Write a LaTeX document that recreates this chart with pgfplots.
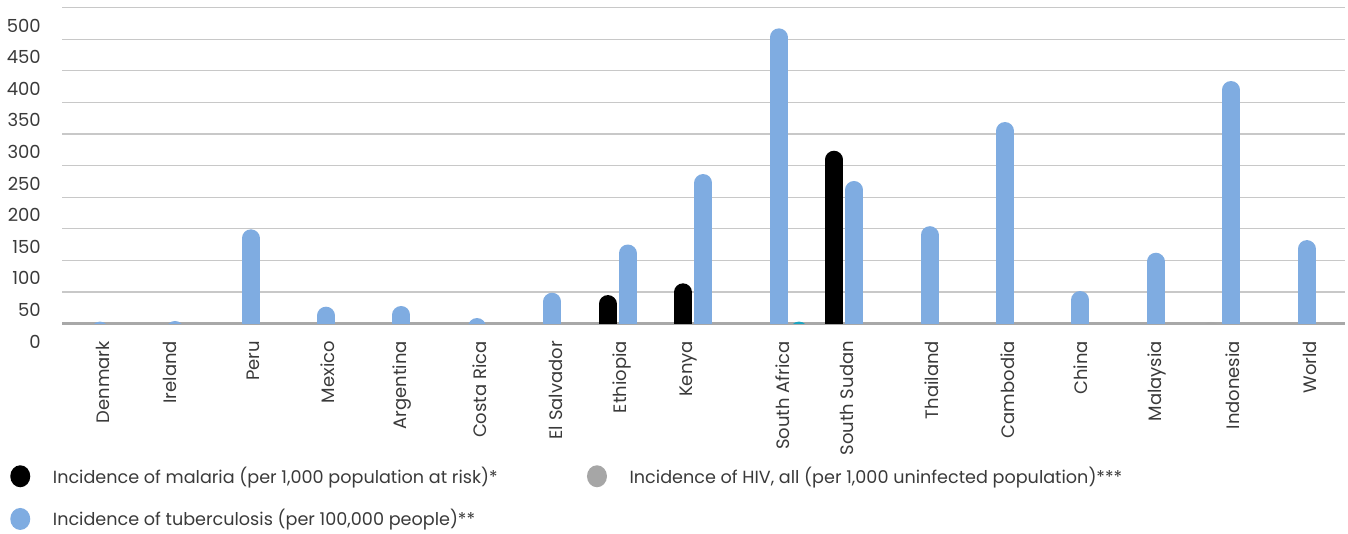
\documentclass[border=0pt]{standalone}
\usepackage{pgfplots}
\pgfplotsset{compat=1.18}
\usepackage{fontspec}
\setmainfont{Poppins}

\definecolor{tbblue}{HTML}{7FACE1}
\definecolor{hivgray}{HTML}{A6A6A6}
\definecolor{hivteal}{HTML}{1AA5C2}
\definecolor{gridgray}{HTML}{C8C8C8}
\definecolor{axisgray}{HTML}{A8A8A8}
\definecolor{txt}{HTML}{3A3A3A}

% rounded-top bar: a comb line with a round cap, lowered by the cap radius
\pgfplotsset{
  rbar/.style={ycomb, mark=none, line width=13.3pt, line cap=round, yshift=-6.65pt},
  dot/.style={legend image code/.code={\path[fill=#1, draw=none, line width=0pt] (0pt,6.5pt) ellipse (7.5pt and 8.25pt);}},
}

\begin{document}
\begin{tikzpicture}
\path[use as bounding box] (0pt,0pt) rectangle (1011pt,399.75pt);
\begin{axis}[
  at={(46.5pt,157.125pt)}, anchor=south west,
  scale only axis, width=962.25pt, height=237pt,
  xmin=62, xmax=1345, ymin=0, ymax=500,
  axis lines*=left,
  y axis line style={draw=none},
  x axis line style={draw=axisgray, line width=2.2pt, -},
  tick style={draw=none},
  ytick={0,50,...,500},
  ymajorgrids, major grid style={gridgray, line width=0.9pt},
  /pgf/number format/assume math mode=true,
  yticklabel style={font=\fontsize{13.5}{16}\selectfont, text=txt, anchor=east, inner sep=0pt, xshift=-15.75pt, yshift=-13.5pt},
  xtick={103,170,253,328,402,480,556,622,689,783,847,932,1008,1081,1157,1233,1310},
  xticklabels={Denmark,Ireland,Peru,Mexico,Argentina,Costa Rica,El Salvador,Ethiopia,Kenya,South Africa,South Sudan,Thailand,Cambodia,China,Malaysia,Indonesia,World},
  xticklabel style={font=\fontsize{13.5}{16}\selectfont, text=txt, rotate=90, anchor=east, inner sep=0pt, xshift=-13pt},
  legend columns=2,
  legend cell align=left,
  legend style={at={(axis description cs:0,0)}, anchor=north west, xshift=-39pt, yshift=-105.3pt,
    draw=none, fill=none, inner sep=0pt, row sep=14.2pt,
    font=\fontsize{13.2}{16}\selectfont, text=txt,
    /tikz/every odd column/.append style={column sep=15pt},
    /tikz/every even column/.append style={column sep=65pt}},
]
\addplot[rbar, black, dot=black]
  coordinates {(607.7,45) (683,63.6) (834,273.4)};
\addlegendentry{Incidence of malaria (per 1,000 population at risk)*}

\addplot[rbar, hivgray, dot=hivgray]
  coordinates {(1211,2.4)};
\addlegendentry{Incidence of HIV, all (per 1,000 uninfected population)***}

\addplot[rbar, tbblue, dot=tbblue]
  coordinates {(100,3) (175,4) (250.7,149) (326,26.6) (401.3,27.7) (477,8.7) (552.3,48.7)
    (627.7,125) (703.3,236.5) (778.7,467) (854,225.5) (929.7,154) (1005,318.8)
    (1080.3,51.4) (1155.7,112) (1231,383.7) (1306.7,132)};
\addlegendentry{Incidence of tuberculosis (per 100,000 people)**}

\addplot[rbar, hivteal, forget plot] coordinates {(799,3)};
\end{axis}
\end{tikzpicture}
\end{document}
